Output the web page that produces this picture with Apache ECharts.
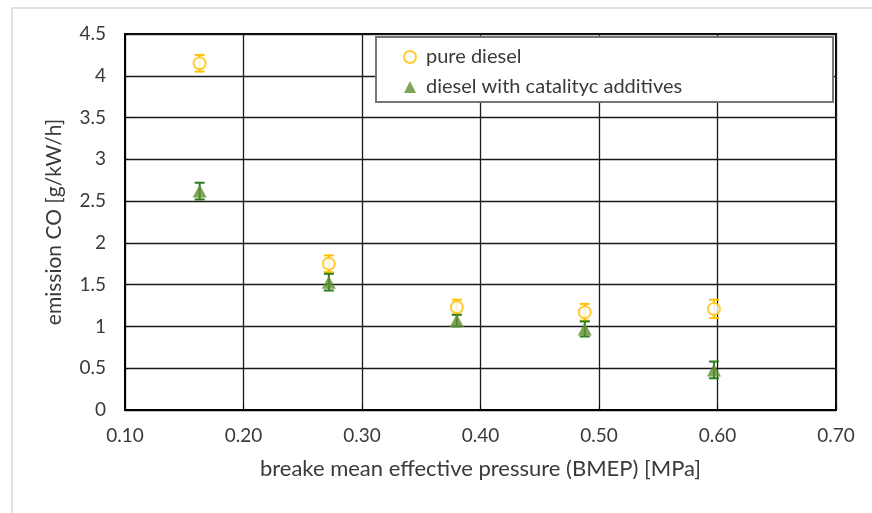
<!DOCTYPE html>
<html>
<head>
<meta charset="utf-8">
<script src="https://cdn.jsdelivr.net/npm/echarts@6/dist/echarts.min.js"></script>
<style>
  html, body { margin: 0; padding: 0; background: #fff; }
  #chart { width: 872px; height: 513px; }
</style>
</head>
<body>
<div id="chart"></div>
<script>
// BMEP [MPa]
const bmep = [0.163, 0.272, 0.380, 0.488, 0.597];
// emission CO [g/kW/h]
const pureDiesel = [4.15, 1.75, 1.23, 1.17, 1.21];
const pureDieselErr = [0.1, 0.1, 0.09, 0.1, 0.11];
const catalytic = [2.62, 1.53, 1.07, 0.97, 0.48];
const catalyticErr = [0.1, 0.1, 0.07, 0.09, 0.1];

const xTicks = [0.1, 0.2, 0.3, 0.4, 0.5, 0.6, 0.7];
const yTicks = [0, 0.5, 1, 1.5, 2, 2.5, 3, 3.5, 4, 4.5];

const textColor = "#3a3a3a";
const font = "Lato, 'Open Sans', sans-serif";

function errorData(ys, errs) {
  return bmep.map((x, i) => [x, ys[i] - errs[i], ys[i] + errs[i]]);
}

function errorBars(color) {
  return function (params, api) {
    const lo = api.coord([api.value(0), api.value(1)]);
    const hi = api.coord([api.value(0), api.value(2)]);
    const w = 5;
    const style = { stroke: color, lineWidth: 2 };
    return {
      type: "group",
      children: [
        { type: "line", shape: { x1: lo[0], y1: lo[1], x2: hi[0], y2: hi[1] }, style },
        { type: "line", shape: { x1: lo[0] - w, y1: lo[1], x2: lo[0] + w, y2: lo[1] }, style },
        { type: "line", shape: { x1: hi[0] - w, y1: hi[1], x2: hi[0] + w, y2: hi[1] }, style },
      ],
    };
  };
}

const chart = echarts.init(document.getElementById("chart"));
chart.setOption({
  animation: false,
  textStyle: { fontFamily: font },
  graphic: [
    {
      type: "rect",
      shape: { x: 12, y: 8, width: 900, height: 540 },
      style: { fill: "none", stroke: "#d9d9d9", lineWidth: 1.5 },
      z: 0,
    },
    {
      type: "rect",
      shape: { x: 376, y: 37, width: 457, height: 65 },
      style: { fill: "#fff", stroke: "#767676", lineWidth: 2 },
      z: 50,
    },
  ],
  grid: {
    left: 125, right: 36, top: 34, bottom: 103,
    show: true, borderColor: "#000", borderWidth: 2,
  },
  legend: {
    orient: "vertical",
    left: 398, top: 42,
    itemGap: 10,
    itemWidth: 12, itemHeight: 12,
    z: 60,
    textStyle: { color: textColor, fontSize: 20, fontFamily: font, padding: [0, 0, 0, 5] },
    data: [
      { name: "pure diesel", icon: "emptyCircle" },
      { name: "diesel with catalityc additives", icon: "triangle" },
    ],
  },
  xAxis: {
    type: "value",
    min: xTicks[0], max: xTicks[xTicks.length - 1], interval: 0.1,
    name: "breake mean effective pressure (BMEP) [MPa]",
    nameLocation: "middle", nameGap: 48,
    nameTextStyle: { color: textColor, fontSize: 22 },
    axisLine: { show: true, lineStyle: { color: "#000", width: 2 } },
    axisTick: { show: true, inside: true, length: 4, lineStyle: { color: "#000" } },
    axisLabel: {
      color: textColor, fontSize: 19, margin: 16,
      formatter: (v) => v.toFixed(2),
    },
    splitLine: { show: true, lineStyle: { color: "#1a1a1a", width: 1.3 } },
  },
  yAxis: {
    type: "value",
    min: yTicks[0], max: yTicks[yTicks.length - 1], interval: 0.5,
    name: "emission CO [g/kW/h]",
    nameLocation: "middle", nameGap: 60,
    nameTextStyle: { color: textColor, fontSize: 21 },
    axisLine: { show: true, lineStyle: { color: "#000", width: 2 } },
    axisTick: { show: true, inside: true, length: 4, lineStyle: { color: "#000" } },
    axisLabel: { color: textColor, fontSize: 19, margin: 19 },
    splitLine: { show: true, lineStyle: { color: "#1a1a1a", width: 1.3 } },
  },
  series: [
    {
      name: "pure diesel err",
      type: "custom",
      renderItem: errorBars("#FFC000"),
      data: errorData(pureDiesel, pureDieselErr),
      z: 3,
    },
    {
      name: "diesel with catalityc additives err",
      type: "custom",
      renderItem: errorBars("#2E7D1E"),
      data: errorData(catalytic, catalyticErr),
      z: 3,
    },
    {
      name: "pure diesel",
      type: "scatter",
      symbol: "emptyCircle",
      symbolSize: 12,
      itemStyle: { color: "#FFC000", borderColor: "#FFC000", borderWidth: 2 },
      data: bmep.map((x, i) => [x, pureDiesel[i]]),
      z: 4,
    },
    {
      name: "diesel with catalityc additives",
      type: "scatter",
      symbol: "triangle",
      symbolSize: [14, 13],
      itemStyle: { color: "#5E8F2E" },
      data: bmep.map((x, i) => [x, catalytic[i]]),
      z: 4,
    },
  ],
});
</script>
</body>
</html>
